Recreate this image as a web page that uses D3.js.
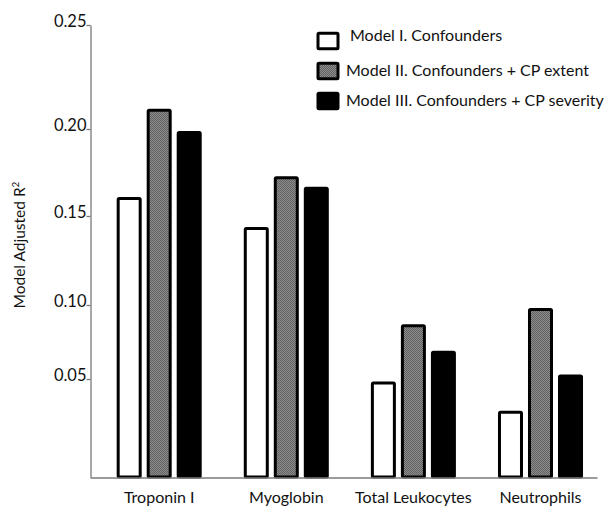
<!DOCTYPE html>
<html><head><meta charset="utf-8">
<script src="https://cdn.jsdelivr.net/npm/d3@7"></script>
<style>body{margin:0;background:#fff} svg{display:block}</style>
</head><body><svg id="c" width="613" height="507"></svg>
<script>
const categories = ["Troponin I", "Myoglobin", "Total Leukocytes", "Neutrophils"];
const seriesNames = ["Model I. Confounders", "Model II. Confounders + CP extent", "Model III. Confounders + CP severity"];
const model1 = [0.160, 0.143, 0.048, 0.033];
const model2 = [0.209, 0.172, 0.086, 0.097];
const model3 = [0.198, 0.166, 0.068, 0.052];
const yTicks = [0.05, 0.10, 0.15, 0.20, 0.25];
const yTickLabels = ["0.05", "0.10", "0.15", "0.20", "0.25"];
const yTitle = "Model Adjusted R";

const seriesValues = [model1, model2, model3];
const fills = ["#ffffff", "url(#dither)", "#000000"];
const FONT = "Lato, 'Open Sans', sans-serif";
const INK = "#111";

const svg = d3.select("#c");
const defs = svg.append("defs");
const pat = defs.append("pattern").attr("id", "dither").attr("width", 2).attr("height", 2)
  .attr("patternUnits", "userSpaceOnUse");
pat.append("rect").attr("width", 2).attr("height", 2).attr("fill", "#8e8e8e");
pat.append("rect").attr("x", 0).attr("y", 0).attr("width", 1).attr("height", 1).attr("fill", "#606060");
pat.append("rect").attr("x", 1).attr("y", 1).attr("width", 1).attr("height", 1).attr("fill", "#606060");

// piecewise scale matching the original (non-uniform) axis spacing
const y = d3.scaleLinear()
  .domain([0, 0.05, 0.10, 0.15, 0.20, 0.25])
  .range([477, 379, 305, 216, 129, 25]);

const x = d3.scaleBand().domain(categories).range([90, 597])
  .paddingInner(0.331).paddingOuter(0.16).align(0.656);
const xs = d3.scaleBand().domain(d3.range(seriesNames.length)).range([0, x.bandwidth()])
  .paddingInner(0.1667).paddingOuter(0);

// bars
const data = [];
categories.forEach((c, i) => seriesValues.forEach((s, j) => data.push({c, j, v: s[i]})));
const SW = 3;
svg.append("g").selectAll("rect").data(data).join("rect")
  .attr("x", d => x(d.c) + xs(d.j) + SW / 2)
  .attr("width", xs.bandwidth() - SW)
  .attr("y", d => y(d.v))
  .attr("height", d => y(0) - y(d.v))
  .attr("fill", d => fills[d.j])
  .attr("stroke", "#000")
  .attr("stroke-width", SW)
  .attr("rx", 1);

// y axis
const yAxis = svg.append("g").attr("transform", "translate(90.5,0)")
  .call(d3.axisLeft(y).tickValues(yTicks).tickSize(4).tickSizeOuter(0)
    .tickFormat((d, i) => yTickLabels[i]));
yAxis.select(".domain").attr("stroke", "#7a7a7a").attr("stroke-width", 1.3);
yAxis.selectAll(".tick line").attr("stroke", "#7a7a7a").attr("stroke-width", 1.3);
yAxis.selectAll(".tick text").attr("font-family", FONT).attr("font-size", 16.5)
  .attr("fill", INK).attr("x", -4).attr("dy", "0.08em");

// x axis
const xAxis = svg.append("g").attr("transform", `translate(0,${y(0) + 0.5})`)
  .call(d3.axisBottom(x).tickSize(0).tickSizeOuter(0));
xAxis.select(".domain").attr("stroke", "#7a7a7a").attr("stroke-width", 1.3);
xAxis.selectAll(".tick text").attr("font-family", FONT).attr("font-size", 16)
  .attr("fill", INK).attr("y", 14);
xAxis.raise();

// y title
const t = svg.append("text").attr("transform", "translate(25,245) rotate(-90)")
  .attr("text-anchor", "middle").attr("font-family", FONT).attr("font-size", 15.5)
  .attr("fill", INK).text(yTitle);
t.append("tspan").attr("font-size", 10).attr("dy", -6).text("2");

// legend
const lg = svg.append("g").attr("transform", "translate(318,0)");
const rows = lg.selectAll("g").data(seriesNames).join("g")
  .attr("transform", (d, i) => `translate(0,${41 + i * 30})`);
rows.append("rect").attr("x", 0).attr("y", -7.75).attr("width", 20).attr("height", 15.5)
  .attr("fill", (d, i) => fills[i]).attr("stroke", "#000").attr("stroke-width", SW).attr("rx", 1);
rows.append("text").attr("x", (d, i) => i === 0 ? 32 : 28).attr("y", (d, i) => i === 0 ? 0 : 5)
  .attr("font-family", FONT).attr("font-size", 16).attr("fill", INK).text(d => d);
</script></body></html>
